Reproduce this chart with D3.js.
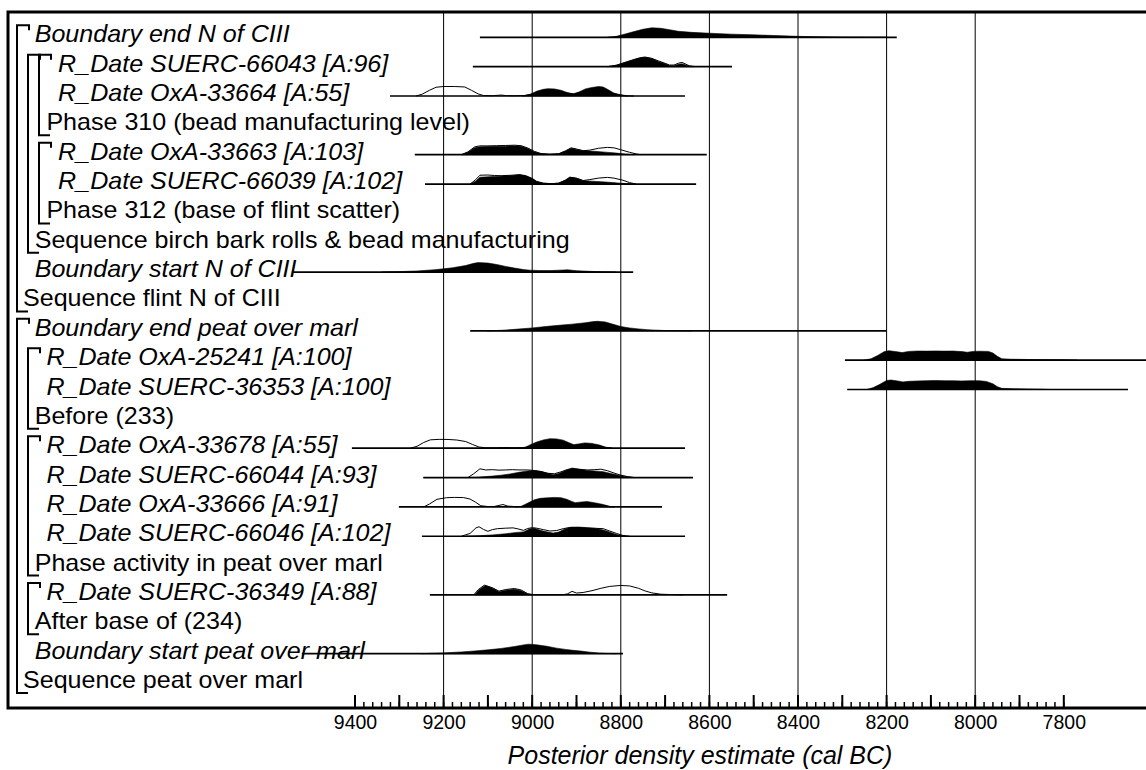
<!DOCTYPE html>
<html>
<head>
<meta charset="utf-8">
<script src="https://cdn.jsdelivr.net/npm/d3@7"></script>
<style>
  html, body { margin: 0; padding: 0; background: #fff; }
  svg { display: block; }
  text { font-family: "Liberation Sans", Arial, sans-serif; fill: #000; }
</style>
</head>
<body>
<svg id="chart" width="1146" height="770"></svg>
<script>
// Model rows, top to bottom (OxCal multi-plot order)
const rowLabels = [
  "Boundary end N of CIII",
  "R_Date SUERC-66043 [A:96]",
  "R_Date OxA-33664 [A:55]",
  "Phase 310 (bead manufacturing level)",
  "R_Date OxA-33663 [A:103]",
  "R_Date SUERC-66039 [A:102]",
  "Phase 312 (base of flint scatter)",
  "Sequence birch bark rolls & bead manufacturing",
  "Boundary start N of CIII",
  "Sequence flint N of CIII",
  "Boundary end peat over marl",
  "R_Date OxA-25241 [A:100]",
  "R_Date SUERC-36353 [A:100]",
  "Before (233)",
  "R_Date OxA-33678 [A:55]",
  "R_Date SUERC-66044 [A:93]",
  "R_Date OxA-33666 [A:91]",
  "R_Date SUERC-66046 [A:102]",
  "Phase activity in peat over marl",
  "R_Date SUERC-36349 [A:88]",
  "After base of (234)",
  "Boundary start peat over marl",
  "Sequence peat over marl"
];
// Element type of each row
const rowKinds = [
  "Boundary", "R_Date", "R_Date", "Phase", "R_Date", "R_Date", "Phase", "Sequence",
  "Boundary", "Sequence", "Boundary", "R_Date", "R_Date", "Before",
  "R_Date", "R_Date", "R_Date", "R_Date", "Phase", "R_Date", "After",
  "Boundary", "Sequence"
];
// Nesting depth of each row's label
const rowDepths = [1, 3, 3, 2, 3, 3, 2, 1, 1, 0, 1, 2, 2, 1, 2, 2, 2, 2, 1, 2, 1, 1, 0];

// Grouping brackets: [first row, last row, depth]
const groupSpans = [
  [0, 9, 0], [1, 7, 1], [1, 3, 2], [4, 6, 2],
  [10, 22, 0], [11, 13, 1], [14, 18, 1], [19, 20, 1]
];

// Full range (cal BC) of each distribution row
const rowRanges = {
  0: [9118, 8177], 1: [9134, 8549], 2: [9321, 8655], 4: [9265, 8606], 5: [9242, 8630],
  8: [9540, 8772], 10: [9140, 8201], 11: [8294, 7540], 12: [8289, 7655],
  14: [9407, 8655], 15: [9246, 8637], 16: [9301, 8707], 17: [9249, 8655],
  19: [9231, 8560], 21: [9520, 8795]
};

// Unmodelled (likelihood) densities: [year cal BC, relative probability]
const likelihoods = {
  1: [[8830,0],[8810,0.15],[8790,0.45],[8770,0.75],[8755,0.95],[8745,1],[8730,0.87],[8715,0.6],[8700,0.35],[8690,0.17],[8680,0.17],[8670,0.36],[8662,0.45],[8655,0.3],[8645,0.08],[8630,0]],
  2: [[9262,0],[9248,0.2],[9232,0.6],[9217,0.92],[9200,1],[9175,1],[9152,0.95],[9137,0.6],[9122,0.22],[9110,0.05],[9090,0.03],[9070,0.1],[9058,0.04],[9040,0.03],[9018,0.05],[9002,0.2],[8985,0.5],[8965,0.65],[8945,0.6],[8925,0.35],[8905,0.2],[8890,0.45],[8870,0.75],[8850,0.85],[8835,0.7],[8820,0.3],[8800,0.1],[8785,0]],
  4: [[9160,0],[9145,0.3],[9130,0.82],[9118,0.93],[9100,0.93],[9080,0.95],[9060,0.97],[9040,1],[9025,0.95],[9010,0.7],[8995,0.35],[8980,0.12],[8960,0.05],[8940,0.1],[8925,0.4],[8912,0.72],[8900,0.6],[8885,0.42],[8870,0.48],[8850,0.68],[8830,0.77],[8815,0.72],[8800,0.52],[8780,0.25],[8765,0.08],[8755,0]],
  5: [[9140,0],[9128,0.45],[9118,0.93],[9100,0.95],[9085,0.9],[9070,0.88],[9050,0.92],[9030,0.97],[9015,0.86],[9000,0.56],[8990,0.25],[8975,0.08],[8955,0.04],[8940,0.1],[8925,0.42],[8915,0.72],[8900,0.62],[8885,0.37],[8870,0.47],[8850,0.63],[8830,0.7],[8815,0.62],[8795,0.4],[8780,0.15],[8765,0]],
  14: [[9275,0],[9260,0.2],[9245,0.6],[9230,0.88],[9210,0.93],[9190,0.92],[9170,0.86],[9150,0.7],[9135,0.4],[9120,0.12],[9105,0.05],[9080,0.04],[9060,0.07],[9040,0.03],[9020,0.05],[9005,0.2],[8990,0.5],[8975,0.65],[8960,0.7],[8945,0.68],[8930,0.6],[8915,0.4],[8905,0.3],[8895,0.38],[8880,0.45],[8865,0.4],[8850,0.25],[8835,0.08],[8820,0]],
  15: [[9145,0],[9132,0.4],[9118,0.92],[9105,0.8],[9090,0.83],[9075,0.78],[9060,0.8],[9045,0.83],[9030,0.8],[9010,0.8],[8995,0.74],[8980,0.62],[8965,0.45],[8950,0.4],[8935,0.6],[8920,0.85],[8910,0.9],[8895,0.86],[8875,0.8],[8860,0.83],[8845,0.88],[8830,0.72],[8815,0.47],[8800,0.25],[8785,0.1],[8770,0]],
  16: [[9245,0],[9232,0.3],[9215,0.8],[9193,0.97],[9175,1],[9155,0.98],[9140,0.82],[9128,0.5],[9116,0.12],[9100,0.04],[9085,0.05],[9066,0.25],[9055,0.08],[9040,0.04],[9025,0.04],[9010,0.2],[8995,0.45],[8980,0.6],[8960,0.68],[8940,0.66],[8922,0.5],[8910,0.35],[8900,0.32],[8885,0.4],[8870,0.4],[8855,0.3],[8840,0.15],[8825,0.03],[8815,0]],
  17: [[9160,0],[9140,0.3],[9127,0.88],[9120,1],[9110,0.72],[9100,0.52],[9090,0.7],[9078,0.8],[9060,0.85],[9043,0.88],[9030,0.75],[9020,0.62],[9010,0.82],[9000,0.9],[8990,0.85],[8975,0.7],[8960,0.55],[8945,0.6],[8930,0.8],[8915,0.92],[8895,0.9],[8875,0.86],[8855,0.83],[8840,0.8],[8825,0.55],[8810,0.3],[8795,0.08],[8780,0]],
  19: [[9132,0],[9122,0.55],[9108,1.03],[9090,0.76],[9075,0.4],[9060,0.57],[9040,0.68],[9025,0.52],[9010,0.13],[8995,0.02],[8930,0.02],[8920,0.12],[8910,0.38],[8900,0.2],[8885,0.26],[8865,0.45],[8845,0.7],[8825,0.9],[8800,1],[8780,0.95],[8760,0.7],[8745,0.42],[8730,0.22],[8710,0.08],[8680,0.03],[8660,0]]
};

// Modelled (posterior) densities: [year cal BC, relative probability]
const posteriors = {
  0: [[8830,0],[8810,0.1],[8790,0.35],[8770,0.6],[8750,0.85],[8730,1],[8710,0.95],[8690,0.8],[8670,0.63],[8640,0.52],[8600,0.43],[8550,0.33],[8500,0.26],[8450,0.18],[8400,0.1],[8350,0.05],[8300,0.02],[8250,0.005],[8200,0]],
  1: [[8830,0],[8810,0.15],[8790,0.45],[8770,0.75],[8755,0.95],[8745,1],[8730,0.85],[8715,0.55],[8700,0.3],[8690,0.12],[8680,0.1],[8670,0.25],[8662,0.3],[8655,0.2],[8645,0.05],[8635,0]],
  2: [[9022,0],[9005,0.15],[8990,0.5],[8975,0.7],[8965,0.77],[8950,0.75],[8935,0.6],[8920,0.35],[8908,0.23],[8895,0.4],[8880,0.75],[8865,0.9],[8850,1],[8840,0.95],[8830,0.7],[8815,0.3],[8800,0.12],[8785,0.03],[8770,0]],
  4: [[9160,0],[9145,0.25],[9130,0.72],[9118,0.84],[9100,0.86],[9080,0.88],[9060,0.9],[9040,0.93],[9025,0.88],[9010,0.65],[8995,0.3],[8980,0.1],[8960,0.05],[8940,0.1],[8925,0.38],[8912,0.68],[8900,0.55],[8885,0.42],[8860,0.36],[8835,0.27],[8810,0.17],[8790,0.07],[8770,0]],
  5: [[9140,0],[9128,0.3],[9118,0.72],[9100,0.76],[9085,0.8],[9065,0.85],[9045,0.9],[9028,1],[9015,0.9],[9000,0.6],[8990,0.3],[8975,0.1],[8955,0.04],[8940,0.1],[8925,0.4],[8915,0.72],[8900,0.6],[8885,0.36],[8865,0.3],[8845,0.25],[8825,0.18],[8805,0.1],[8785,0.04],[8770,0]],
  8: [[9340,0],[9300,0.05],[9260,0.12],[9220,0.25],[9180,0.45],[9150,0.7],[9132,0.92],[9122,1],[9100,0.95],[9080,0.8],[9060,0.6],[9040,0.42],[9020,0.27],[9005,0.2],[8985,0.17],[8960,0.16],[8940,0.2],[8920,0.24],[8900,0.15],[8870,0.08],[8840,0.03],[8810,0]],
  10: [[9102,0],[9070,0.05],[9040,0.15],[9000,0.3],[8970,0.45],[8940,0.58],[8910,0.7],[8880,0.85],[8862,0.97],[8852,1],[8835,0.93],[8815,0.65],[8800,0.45],[8780,0.3],[8760,0.2],[8740,0.12],[8720,0.07],[8700,0.03],[8670,0.01],[8640,0]],
  11: [[8250,0],[8235,0.15],[8220,0.5],[8205,0.9],[8195,1],[8180,0.9],[8165,0.8],[8150,0.92],[8130,0.96],[8110,0.95],[8090,0.97],[8070,0.95],[8050,0.96],[8030,0.9],[8018,0.83],[8005,0.92],[7990,0.94],[7970,0.92],[7960,0.75],[7950,0.4],[7940,0.15],[7920,0.1],[7880,0.07],[7840,0.05],[7800,0.03],[7770,0]],
  12: [[8245,0],[8230,0.2],[8215,0.55],[8200,0.95],[8190,1],[8175,0.9],[8163,0.8],[8150,0.86],[8130,0.9],[8110,0.93],[8090,0.95],[8070,0.93],[8050,0.92],[8030,0.9],[8010,0.93],[7990,0.92],[7975,0.85],[7960,0.6],[7950,0.3],[7940,0.12],[7910,0.08],[7880,0.06],[7850,0.03],[7830,0]],
  14: [[9080,0],[9060,0.02],[9030,0.03],[9015,0.1],[9005,0.35],[8990,0.65],[8975,0.87],[8960,1],[8945,0.98],[8930,0.85],[8918,0.6],[8906,0.37],[8895,0.45],[8881,0.56],[8865,0.5],[8848,0.33],[8835,0.12],[8820,0]],
  15: [[9150,0],[9120,0.05],[9090,0.15],[9070,0.25],[9050,0.38],[9030,0.55],[9010,0.7],[8995,0.74],[8980,0.65],[8965,0.45],[8953,0.3],[8940,0.42],[8925,0.75],[8910,1],[8895,0.9],[8876,0.75],[8860,0.7],[8840,0.62],[8820,0.4],[8800,0.2],[8785,0.08],[8770,0]],
  16: [[9040,0],[9025,0.05],[9010,0.4],[8995,0.75],[8982,0.9],[8965,0.96],[8950,1],[8935,0.97],[8922,0.8],[8912,0.6],[8903,0.45],[8888,0.52],[8876,0.56],[8860,0.45],[8840,0.26],[8825,0.06],[8815,0]],
  17: [[9150,0],[9120,0.05],[9090,0.14],[9060,0.26],[9040,0.38],[9020,0.46],[9005,0.78],[8995,0.84],[8982,0.62],[8965,0.45],[8953,0.33],[8940,0.45],[8925,0.8],[8912,0.96],[8895,0.97],[8875,0.9],[8855,0.82],[8840,0.65],[8830,0.52],[8815,0.27],[8800,0.07],[8790,0]],
  19: [[9130,0],[9120,0.55],[9106,1],[9090,0.72],[9075,0.35],[9060,0.5],[9040,0.6],[9025,0.45],[9010,0.1],[9000,0]],
  21: [[9250,0],[9200,0.08],[9160,0.18],[9130,0.28],[9100,0.4],[9070,0.55],[9040,0.75],[9020,0.92],[9008,1],[8990,0.93],[8967,0.78],[8945,0.58],[8925,0.45],[8908,0.35],[8890,0.27],[8870,0.16],[8850,0.07],[8830,0.02],[8810,0]]
};

// Axis tick values (cal BC)
const labelTicks = [9400, 9200, 9000, 8800, 8600, 8400, 8200, 8000, 7800];
const majorTicks = d3.range(9400, 7799, -100);
const minorTicks = d3.range(9400, 7799, -20);
const gridYears = [9200, 9000, 8800, 8600, 8400, 8200, 8000];
const axisTitle = "Posterior density estimate (cal BC)";

// ---- layout ----
const svg = d3.select("#chart");
const frame = { left: 8, top: 12, right: 1152, bottom: 708 };
const rowTop = 37.3, rowStep = 29.35;
const rowY = i => rowTop + i * rowStep;

const x = d3.scaleLinear().domain([9400, 7800]).range([355, 1063.8]);
const h = d3.scaleLinear().domain([0, 1]).range([0, 9.5]);

// Vertical grid lines
svg.append("g").selectAll("line").data(gridYears).join("line")
  .attr("x1", d => x(d)).attr("x2", d => x(d))
  .attr("y1", frame.top).attr("y2", frame.bottom)
  .attr("stroke", "#000").attr("stroke-width", 1);

// Row labels (slightly wide lettering)
svg.append("g").selectAll("text").data(rowLabels).join("text")
  .attr("transform", (d, i) => `translate(${23 + rowDepths[i] * 11.7},${rowY(i) + 5}) scale(1.09,1)`)
  .attr("font-size", 23)
  .attr("font-style", (d, i) => (rowKinds[i] === "R_Date" || rowKinds[i] === "Boundary") ? "italic" : "normal")
  .text(d => d);

// Grouping brackets
const bx = d => 17 + d * 11;
svg.append("g").selectAll("path").data(groupSpans).join("path")
  .attr("d", ([a, b, d]) => {
    const x0 = bx(d), y0 = rowY(a) - 12, y1 = rowY(b) + 10;
    return `M${x0 + 12},${y0 + 5}V${y0}H${x0}V${y1}H${x0 + 11}`;
  })
  .attr("fill", "none").attr("stroke", "#000").attr("stroke-width", 2);

// Distributions
const area = d3.area()
  .x(d => x(d[0]))
  .y0(0)
  .y1(d => -h(d[1]));
const line = d3.line()
  .x(d => x(d[0]))
  .y(d => -h(d[1]));

const dist = svg.append("g");
Object.keys(rowRanges).forEach(k => {
  const i = +k;
  const g = dist.append("g").attr("transform", `translate(0,${rowY(i)})`);
  if (likelihoods[i]) {
    g.append("path").datum(likelihoods[i]).attr("d", line)
      .attr("fill", "none").attr("stroke", "#000").attr("stroke-width", 1);
  }
  if (posteriors[i]) {
    g.append("path").datum(posteriors[i]).attr("d", area)
      .attr("fill", "#000").attr("stroke", "#000").attr("stroke-width", 0.6);
  }
  const r = rowRanges[i];
  g.append("line")
    .attr("x1", x(r[0])).attr("x2", x(r[1]))
    .attr("y1", 0).attr("y2", 0)
    .attr("stroke", "#000").attr("stroke-width", 1.7);
});

// Frame
svg.append("rect")
  .attr("x", frame.left).attr("y", frame.top)
  .attr("width", frame.right - frame.left).attr("height", frame.bottom - frame.top)
  .attr("fill", "none").attr("stroke", "#000").attr("stroke-width", 3);

// Axis: minor and major ticks pointing up from the bottom frame line
const axisG = svg.append("g").attr("transform", `translate(0,${frame.bottom})`);
axisG.selectAll("line.minor").data(minorTicks).join("line").attr("class", "minor")
  .attr("x1", d => x(d)).attr("x2", d => x(d))
  .attr("y1", 0).attr("y2", -6).attr("stroke", "#000").attr("stroke-width", 1.5);
axisG.selectAll("line.major").data(majorTicks).join("line").attr("class", "major")
  .attr("x1", d => x(d)).attr("x2", d => x(d))
  .attr("y1", 0).attr("y2", -13).attr("stroke", "#000").attr("stroke-width", 2);
const labelAxis = d3.axisBottom(x).tickValues(labelTicks).tickSize(0).tickPadding(7)
  .tickFormat(d3.format("d"));
axisG.append("g").call(labelAxis)
  .call(g => g.select(".domain").remove())
  .call(g => g.selectAll("text").attr("font-size", 19.5)
    .attr("font-family", "Liberation Sans, Arial, sans-serif").attr("fill", "#000"));

// Axis title
svg.append("text")
  .attr("x", 700).attr("y", 764)
  .attr("text-anchor", "middle")
  .attr("font-size", 25).attr("font-style", "italic")
  .text(axisTitle);
</script>
</body>
</html>
